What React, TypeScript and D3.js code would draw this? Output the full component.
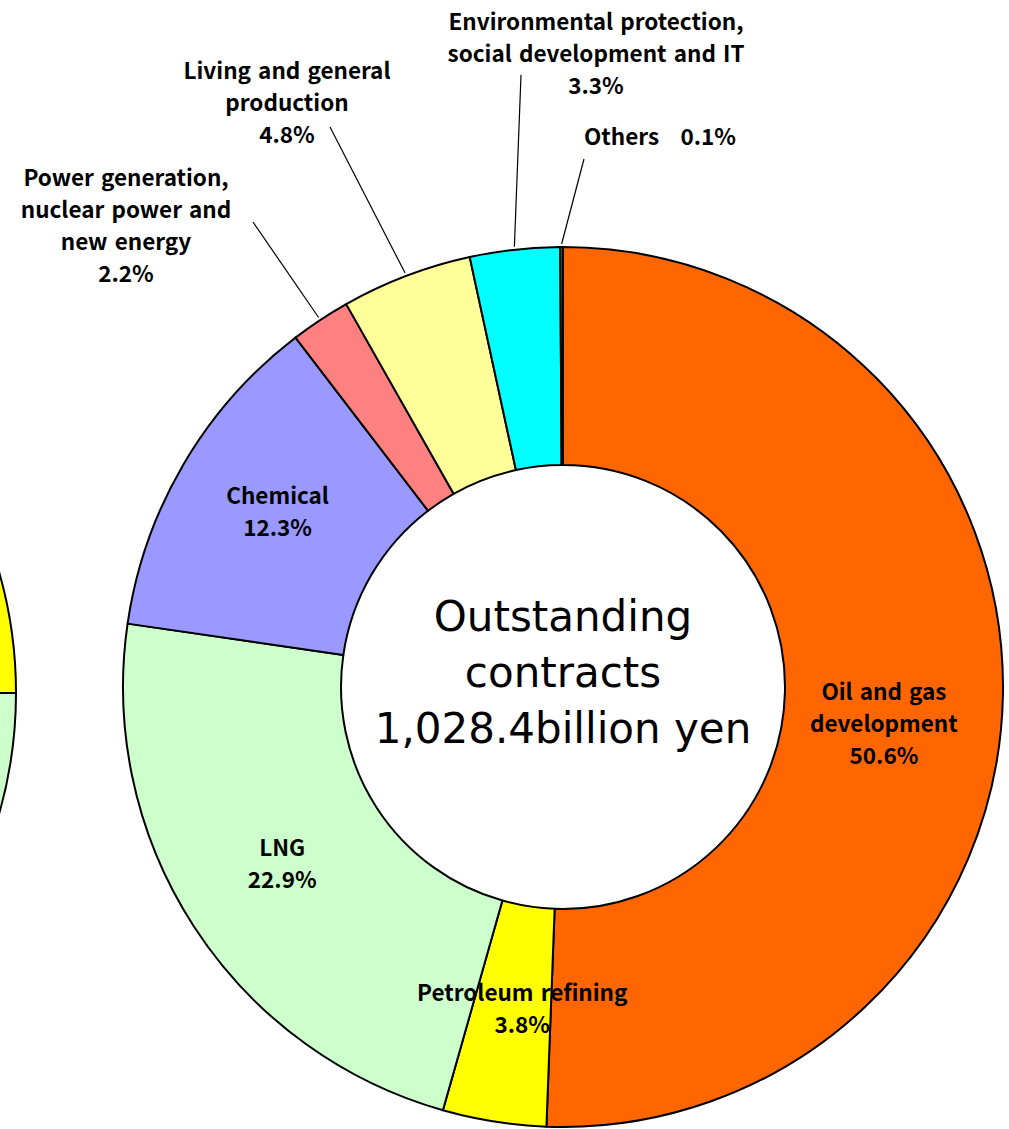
import * as d3 from "d3";
import { useEffect, useRef } from "react";

// outstanding contracts by sector, % (clockwise from 12 o'clock)
const categories = [
  "Oil and gas development",
  "Petroleum refining",
  "LNG",
  "Chemical",
  "Power generation, nuclear power and new energy",
  "Living and general production",
  "Environmental protection, social development and IT",
  "Others",
];
const shares = [50.6, 3.8, 22.9, 12.3, 2.2, 4.8, 3.3, 0.1];
const labelLines = [
  ["Oil and gas", "development"],
  ["Petroleum refining"],
  ["LNG"],
  ["Chemical"],
  ["Power generation,", "nuclear power and", "new energy"],
  ["Living and general", "production"],
  ["Environmental protection,", "social development and IT"],
  ["Others"],
];
const centerLines = ["Outstanding", "contracts", "1,028.4billion yen"];

// the edge of the neighbouring donut that is cut off at the left
const neighbourShares = [25, 75];

const colors = ["#FF6600", "#FFFF00", "#CCFFCC", "#9999FF", "#FF8080", "#FFFF99", "#00FFFF", "#008080"];
const neighbourColors = ["#FFFF00", "#CCFFCC"];

// label placement: inside labels are offset from the centroid,
// outside labels get a block centre and a leader line end
const labelLayout: Record<number, { dx?: number; dy?: number; x?: number; y?: number; lx?: number; ly?: number; inline?: boolean }> = {
  0: { dx: -10, dy: 29 },
  1: { dx: 11, dy: -7 },
  2: { dx: -3, dy: -5 },
  3: { dx: 0, dy: -9 },
  4: { x: 126, y: 224, lx: 253, ly: 222 },
  5: { x: 287, y: 101, lx: 330, ly: 127 },
  6: { x: 596, y: 52, lx: 521, ly: 75 },
  7: { x: 660, y: 135, lx: 584, ly: 159, inline: true },
};

const W = 1009;
const H = 1129;

function App() {
  const ref = useRef<SVGSVGElement | null>(null);

  useEffect(() => {
    const svg = d3.select(ref.current!);
    svg.selectAll("*").remove();

    const cx = 563;
    const cy = 687;
    const outer = 440;
    const inner = 222;
    const labelFont = "'Noto Sans CJK JP', 'Noto Sans', sans-serif";
    const lineH = 32;

    const pie = d3.pie<number>().sort(null).value((d) => d);
    const arc = d3.arc<d3.PieArcDatum<number>>().innerRadius(inner).outerRadius(outer);

    // neighbour chart, mostly off the page
    const ng = svg.append("g").attr("transform", `translate(${16 - outer},693)`);
    ng.selectAll("path")
      .data(pie(neighbourShares))
      .enter()
      .append("path")
      .attr("d", arc)
      .attr("fill", (_, i) => neighbourColors[i])
      .attr("stroke", "#000")
      .attr("stroke-width", 2);

    const g = svg.append("g").attr("transform", `translate(${cx},${cy})`);
    const arcs = pie(shares);

    g.selectAll("path.slice")
      .data(arcs)
      .enter()
      .append("path")
      .attr("class", "slice")
      .attr("d", arc)
      .attr("fill", (_, i) => colors[i])
      .attr("stroke", "#000")
      .attr("stroke-width", 2)
      .attr("stroke-linejoin", "round");

    // labels
    arcs.forEach((a, i) => {
      const lay = labelLayout[i];
      const pct = shares[i].toFixed(1) + "%";
      let bx: number;
      let by: number;
      if (lay.x !== undefined) {
        bx = lay.x - cx;
        by = lay.y! - cy;
        const mid = (a.startAngle + a.endAngle) / 2;
        const r = outer + 3;
        g.append("line")
          .attr("x1", Math.sin(mid) * r)
          .attr("y1", -Math.cos(mid) * r)
          .attr("x2", lay.lx! - cx)
          .attr("y2", lay.ly! - cy)
          .attr("stroke", "#000")
          .attr("stroke-width", 1.2);
      } else {
        const [mx, my] = arc.centroid(a);
        bx = mx + (lay.dx || 0);
        by = my + (lay.dy || 0);
      }
      const lines = lay.inline ? [labelLines[i][0] + "\u00a0\u00a0\u00a0" + pct] : [...labelLines[i], pct];
      const t = g.append("text")
        .attr("text-anchor", "middle")
        .attr("font-family", labelFont)
        .attr("font-weight", "bold")
        .attr("font-size", 22.5)
        .attr("word-spacing", 2)
        .attr("fill", "#000");
      lines.forEach((ln, k) => {
        t.append("tspan")
          .attr("x", bx)
          .attr("y", by + (k - (lines.length - 1) / 2) * lineH)
          .attr("dominant-baseline", "central")
          .text(ln);
      });
    });

    // centre caption
    const ct = g.append("text")
      .attr("text-anchor", "middle")
      .attr("font-family", "'DejaVu Sans', sans-serif")
      .attr("font-size", 42)
      .attr("fill", "#000");
    centerLines.forEach((ln, k) => {
      ct.append("tspan")
        .attr("x", 0)
        .attr("y", -15 + (k - 1) * 56)
        .attr("dominant-baseline", "central")
        .text(ln);
    });
  }, []);

  return (
    <svg
      ref={ref}
      width={W}
      height={H}
      style={{ position: "absolute", left: 0, top: 0, background: "#fff" }}
    />
  );
}

export default App;
